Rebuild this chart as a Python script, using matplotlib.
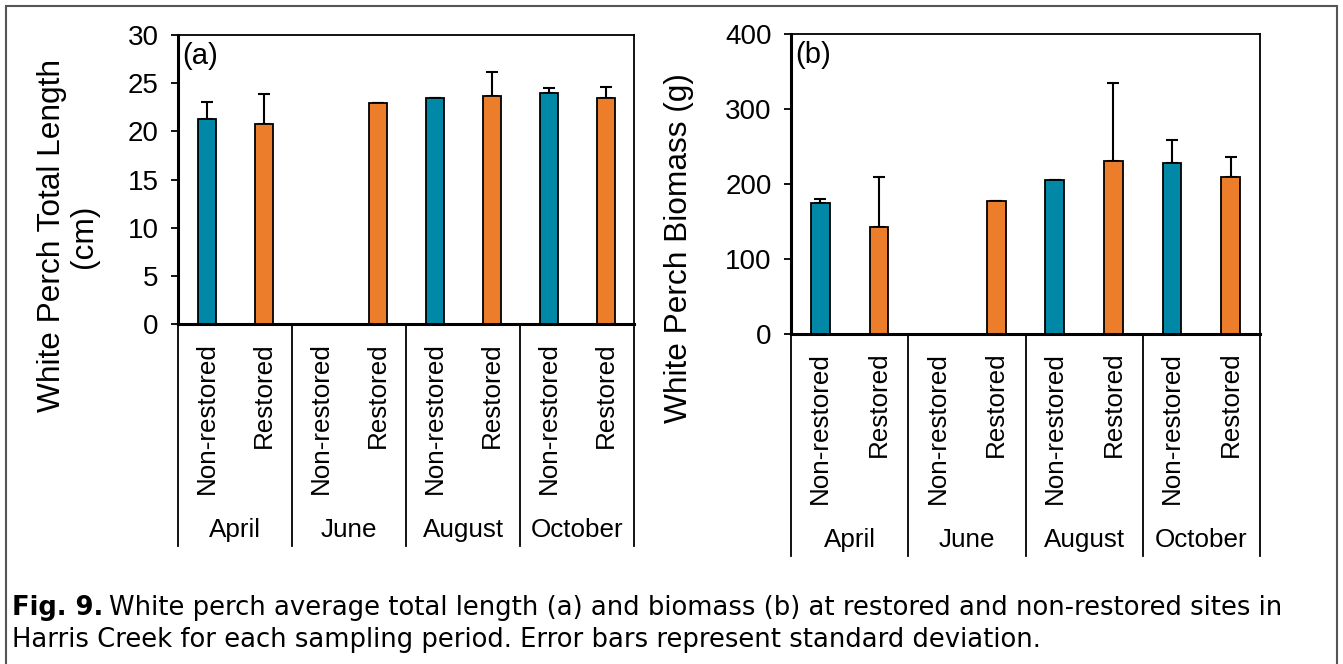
import numpy as np
import matplotlib
matplotlib.use("Agg")
import matplotlib.pyplot as plt
from matplotlib.transforms import blended_transform_factory
from matplotlib.patches import Rectangle

months = ["April", "June", "August", "October"]
sites = ["Non-restored", "Restored"]
teal = "#0088A6"
orange = "#EC7D2B"

# length (cm), June non-restored has no fish
length_mean = [21.3, 20.8, np.nan, 23.0, 23.5, 23.7, 24.0, 23.5]
length_sd = [1.8, 3.1, np.nan, 0.0, 0.0, 2.5, 0.5, 1.1]
# biomass (g)
mass_mean = [174, 142, np.nan, 177, 205, 230, 228, 209]
mass_sd = [6, 67, np.nan, 0, 0, 104, 30, 27]

plt.rcParams['font.family'] = ['Liberation Sans', 'DejaVu Sans']

fig = plt.figure(figsize=(13.43, 6.64), dpi=100)
W, H = 1343.0, 664.0

def px_axes(x0, y0, x1, y1):
    return fig.add_axes([x0 / W, 1 - y1 / H, (x1 - x0) / W, (y1 - y0) / H])

ax1 = px_axes(178.3, 35, 634.3, 324.3)
ax2 = px_axes(791, 34, 1260, 333.7)

def draw_panel(ax, mean, sd, ymax, ystep, tag, month_y, div_y):
    n = len(mean)
    x = np.arange(n)
    cols = [teal if i % 2 == 0 else orange for i in range(n)]
    ax.bar(x, mean, width=0.32, color=cols, edgecolor="black", linewidth=1.3, zorder=2)
    ax.errorbar(x, mean, yerr=[np.zeros(n), sd], fmt="none", ecolor="black",
                elinewidth=1.5, capsize=4, capthick=1.5, zorder=1)
    ax.set_xlim(-0.5, n - 0.5)
    ax.set_ylim(0, ymax)
    ax.set_yticks(np.arange(0, ymax + 1, ystep))
    ax.set_xticks(x)
    ax.set_xticklabels(sites * 4, rotation=90, fontsize=18.7)
    ax.tick_params(axis="x", length=0, pad=13)
    ax.tick_params(axis="y", labelsize=20, length=5, width=1.3, direction="out", pad=9)
    for s in ["top", "right"]:
        ax.spines[s].set_linewidth(1.3)
    for s in ["left", "bottom"]:
        ax.spines[s].set_linewidth(2.2)
    ax.text(0.008, 0.975, tag, transform=ax.transAxes, ha="left", va="top", fontsize=21)
    trans = blended_transform_factory(ax.transData, ax.transAxes)
    for xd in [-0.5, 1.5, 3.5, 5.5, 7.5]:
        ax.plot([xd, xd], [0, div_y], color="black", lw=1.3, transform=trans, clip_on=False)
    for i, m in enumerate(months):
        ax.text(2 * i + 0.5, month_y, m, transform=trans, ha="center", va="center", fontsize=18.7)

draw_panel(ax1, length_mean, length_sd, 30, 5, "(a)",
           (324.3 - 530) / 289.3, (324.3 - 546) / 289.3)
draw_panel(ax2, mass_mean, mass_sd, 400, 100, "(b)",
           (333.7 - 540) / 299.7, (333.7 - 556) / 299.7)

fig.text(68 / W, 1 - 236 / H, "White Perch Total Length\n(cm)", rotation=90, ha="center",
         va="center", fontsize=22.8, linespacing=1.1)
fig.text(679 / W, 1 - 248 / H, "White Perch Biomass (g)", rotation=90, ha="center",
         va="center", fontsize=22.8)

# outer frame
fig.patches.append(Rectangle((6 / W, -0.05), 1331 / W, 1 - 6 / H + 0.05, transform=fig.transFigure,
                             fill=False, edgecolor="#555555", lw=1.5))

cap_font = ['DejaVu Sans']
cap_size = 18.6
bold = fig.text(12 / W, 1 - 608 / H, "Fig. 9.", fontsize=cap_size, fontweight="bold",
                family=cap_font, va="center", ha="left")
fig.canvas.draw()
bb = bold.get_window_extent()
fig.text((bb.x1 + 6) / W, 1 - 608 / H,
         "White perch average total length (a) and biomass (b) at restored and non-restored sites in",
         fontsize=cap_size, family=cap_font, va="center", ha="left")
fig.text(12 / W, 1 - 640 / H,
         "Harris Creek for each sampling period. Error bars represent standard deviation.",
         fontsize=cap_size, family=cap_font, va="center", ha="left")

fig.savefig("out.png", dpi=100)
